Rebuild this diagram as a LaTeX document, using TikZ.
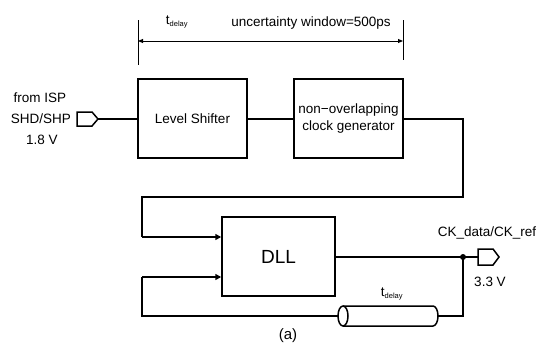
\documentclass[tikz,border=0pt]{standalone}
\usepackage{fontspec}
\setmainfont{Liberation Sans}
\usetikzlibrary{arrows.meta}
\begin{document}
\begin{tikzpicture}[x=1pt,y=-1pt,
  wire/.style={line width=1.5pt},
  blk/.style={draw,line width=1.5pt,inner sep=0pt,align=center,font=\fontsize{13.5}{16}\selectfont},
  lbl/.style={inner sep=0pt,font=\fontsize{13.5}{16}\selectfont},
  arr/.style={-{Triangle[length=6pt,width=6pt]}},
  port/.style={line width=1.5pt}]
\useasboundingbox (0,0) rectangle (538,354);
% dimension line
\coordinate (dl1) at (138,20); \coordinate (dl2) at (138,65);
\coordinate (dr1) at (403,20); \coordinate (dr2) at (403,60);
\draw[line width=0.6pt] (dl1) -- (dl2);
\draw[line width=0.6pt] (dr1) -- (dr2);
\coordinate (al) at (138,41); \coordinate (ar) at (403,41);
\draw[line width=0.9pt,{Triangle[length=5pt,width=4pt]}-{Triangle[length=5pt,width=4pt]}] (al) -- (ar);
\node[lbl] (td1) at (177,22) {t\textsubscript{\fontsize{7.5}{8}\selectfont delay}};
\node[lbl] (uw) at (311,23) {uncertainty window=500ps};
% blocks
\node[blk,minimum width=109pt,minimum height=79pt] (ls) at (192.5,118.5) {Level Shifter};
\node[blk,minimum width=109pt,minimum height=79pt] (nov) at (348.5,118.5) {non\char"2212 overlapping\\[1pt]clock generator};
\node[blk,minimum width=113pt,minimum height=79pt,font=\fontsize{19}{22}\selectfont] (dll) at (278.5,256.5) {DLL};
% input port
\coordinate (ip1) at (77,112); \coordinate (ip2) at (92,112); \coordinate (ip3) at (98,119);
\coordinate (ip4) at (92,126); \coordinate (ip5) at (77,126);
\draw[port] (ip1) -- (ip2) -- (ip3) -- (ip4) -- (ip5) -- cycle;
\draw[wire] (ip3) -- (ls.west |- ip3);
\node[lbl,anchor=east] (isp2) at (71,119) {SHD/SHP};
\node[lbl] (isp1) at (40,98) {from ISP};
\node[lbl] (isp3) at (42,140) {1.8 V};
% connections
\draw[wire] (ls.east |- ip3) -- (nov.west |- ip3);
\coordinate (c1) at (463,119); \coordinate (c2) at (463,197);
\coordinate (c3) at (142,197); \coordinate (c4) at (142,237);
\draw[wire] (nov.east |- ip3) -- (c1) -- (c2) -- (c3) -- (c4);
\draw[wire,arr] (c4) -- (dll.west |- c4);
% output
\coordinate (dot) at (463,257);
\draw[wire] (dll.east |- dot) -- (dot);
\fill (dot) circle (3pt);
\coordinate (op1) at (478,249); \coordinate (op2) at (493,249); \coordinate (op3) at (499,257);
\coordinate (op4) at (493,265); \coordinate (op5) at (478,265);
\draw[wire] (dot) -- (op1 |- dot);
\draw[port] (op1) -- (op2) -- (op3) -- (op4) -- (op5) -- cycle;
\node[lbl] (ckl) at (487,233) {CK\_data/CK\_ref};
\node[lbl] (v33) at (490,282) {3.3 V};
% transmission line
\coordinate (tl) at (343,316); \coordinate (tr) at (433,316);
\draw[line width=1.5pt] (343,306) -- (433,306) arc[start angle=90,end angle=-90,x radius=5pt,y radius=10pt] -- (343,326);
\draw[line width=1.5pt] (tl) ellipse[x radius=5pt,y radius=10pt];
\coordinate (tre) at (438,316);
\draw[wire] (tre) -- (463,316) -- (dot);
\coordinate (b1) at (338,316); \coordinate (b2) at (142,316); \coordinate (b3) at (142,277);
\draw[wire] (b1) -- (b2) -- (b3);
\draw[wire,arr] (b3) -- (dll.west |- b3);
\node[lbl] (td2) at (392,294) {t\textsubscript{\fontsize{7.5}{8}\selectfont delay}};
\node[lbl,font=\fontsize{15}{17}\selectfont] (cap) at (288,336) {(a)};
\end{tikzpicture}
\end{document}
